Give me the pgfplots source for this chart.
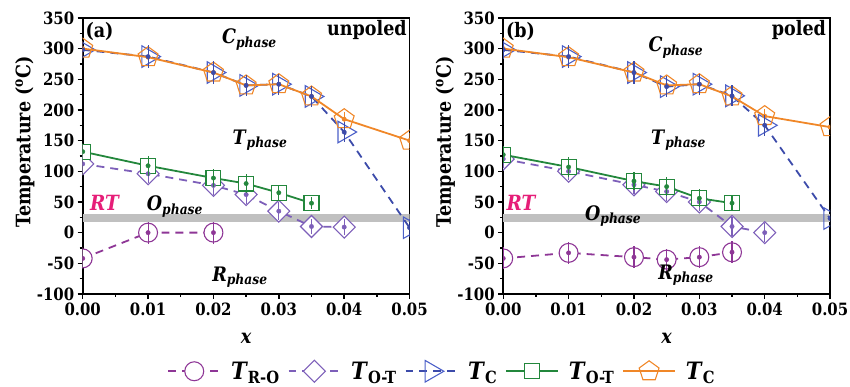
\documentclass[border=0pt]{standalone}
\usepackage{fontspec}
\setmainfont{DejaVu Serif}[FakeStretch=0.88]
\usepackage{pgfplots}
\pgfplotsset{compat=1.18}
\usepackage{pgfplotstable}

\definecolor{cRO}{RGB}{142,54,150}
\definecolor{cOTa}{RGB}{125,95,185}
\definecolor{cTCa}{RGB}{60,75,170}
\definecolor{cTCam}{RGB}{75,95,200}
\definecolor{cOTb}{RGB}{35,135,60}
\definecolor{cTCb}{RGB}{240,135,40}
\definecolor{cRT}{RGB}{230,30,120}
\definecolor{cband}{RGB}{192,192,192}

% ---------------- (a) unpoled ----------------
\pgfplotstableread{
x y e
0 -42 18
0.01 0 18
0.02 0 18
}\aRO
\pgfplotstableread{
x y e
0 112 15
0.01 96 15
0.02 77 15
0.025 62 15
0.03 35 15
0.035 10 13
0.04 9 13
}\aOT
\pgfplotstableread{
x y e
0 298 15
0.01 287 19
0.02 261 18
0.025 240 17
0.03 242 17
0.035 222 17
0.04 164 17
0.05 8 15
}\aTC
\pgfplotstableread{
x y e
0 132 14
0.01 109 16
0.02 89 15
0.025 80 15
0.03 65 12
0.035 48 10
}\aOTs
\pgfplotstableread{
x y e
0 300 12
0.01 286 12
0.02 261 12
0.025 240 12
0.03 242 12
0.035 222 12
0.04 185 12
0.05 150 12
}\aTCp

% ---------------- (b) poled ----------------
\pgfplotstableread{
x y e
0 -42 18
0.01 -33 18
0.02 -40 18
0.025 -44 18
0.03 -40 18
0.035 -32 18
}\bRO
\pgfplotstableread{
x y e
0 120 15
0.01 100 15
0.02 78 15
0.025 67 15
0.03 50 15
0.035 10 15
0.04 0 15
}\bOT
\pgfplotstableread{
x y e
0 298 15
0.01 287 19
0.02 261 18
0.025 238 17
0.03 242 17
0.035 223 17
0.04 175 17
0.05 23 15
}\bTC
\pgfplotstableread{
x y e
0 127 14
0.01 107 16
0.02 84 15
0.025 75 15
0.03 56 15
0.035 48 12
}\bOTs
\pgfplotstableread{
x y e
0 300 12
0.01 286 12
0.02 261 12
0.025 240 12
0.03 242 12
0.035 222 12
0.04 190 12
0.05 172 12
}\bTCp

\newcommand{\ph}[1]{\textbf{\textit{#1}}\textsubscript{\textbf{\textit{phase}}}}
\newcommand{\TT}[1]{\textbf{\textit{T}}\textsubscript{\textbf{#1}}}

\pgfplotsset{
  common/.style={
    scale only axis, width=328pt, height=277pt,
    xmin=0, xmax=0.05, ymin=-100, ymax=350,
    clip marker paths=true,
    xtick={0,0.01,0.02,0.03,0.04,0.05},
    minor xtick={0.005,0.015,0.025,0.035,0.045},
    ytick={-100,-50,0,50,100,150,200,250,300,350},
    minor ytick={-75,-25,25,75,125,175,225,275,325},
    tick align=outside, xtick pos=bottom, ytick pos=left,
    major tick length=5pt, minor tick length=3pt,
    every tick/.style={line width=1.4pt, black},
    axis line style={line width=1.6pt},
    ticklabel style={font=\fontsize{17}{20}\selectfont\bfseries},
    /pgf/number format/assume math mode=true,
    xticklabel style={/pgf/number format/.cd, fixed, fixed zerofill, precision=2},
    scaled x ticks=false,
    xlabel={\textbf{\textit{x}}},
    ylabel={\textbf{Temperature (\textsuperscript{o}C)}},
    label style={font=\fontsize{20}{24}\selectfont},
    ylabel style={at={(axis description cs:-0.177,0.55)}, anchor=center},
    xlabel style={at={(axis description cs:0.5,-0.162)}, anchor=center},
    legend image code/.code={\draw[mark repeat=2, mark phase=2] plot coordinates {(0pt,0pt) (26pt,0pt) (52pt,0pt)};},
  },
  sRO/.style={color=cRO, line width=1.8pt, dash pattern=on 8pt off 6pt, mark=*, mark size=9.5pt, mark options={solid, fill=white, draw=cRO, line width=1.1pt}},
  sOT/.style={color=cOTa, line width=1.8pt, dash pattern=on 8pt off 6pt, mark=square*, mark size=7.8pt, mark options={solid, rotate=45, fill=white, draw=cOTa, line width=1.1pt}},
  sTC/.style={color=cTCa, line width=1.8pt, dash pattern=on 8pt off 6pt, mark=triangle, mark size=12.5pt, mark options={solid, rotate=-90, draw=cTCam, line width=1.1pt}},
  sOTs/.style={color=cOTb, line width=1.8pt, solid, mark=square*, mark size=7.5pt, mark options={solid, fill=white, draw=cOTb, line width=1.1pt}},
  sTCp/.style={color=cTCb, line width=1.8pt, solid, mark=pentagon, mark size=10.5pt, mark options={solid, draw=cTCb, line width=1.1pt}},
  dots/.style={forget plot, only marks, mark=*, mark size=2.2pt, color=#1,
    error bars/.cd, y dir=both, y explicit, error mark=none,
    error bar style={line width=1.1pt, solid, color=#1}},
}

\begin{document}
\begin{tikzpicture}
\useasboundingbox (-83pt,-93pt) rectangle (770pt,295pt);
% ======================= (a) =======================
\begin{axis}[common,
  legend style={at={(axis description cs:1.1,-0.28)}, anchor=center,
    legend columns=5, draw=none, fill=none,
    font=\fontsize{24}{28}\selectfont,
    /tikz/every even column/.append style={column sep=6pt},
    /tikz/every odd column/.append style={column sep=8pt}},
]
\addplot[forget plot, fill=cband, draw=none] coordinates {(0,18) (0.05,18) (0.05,31) (0,31)} -- cycle;

\addplot[sRO] table[x=x,y=y]{\aRO};
\addlegendentry{\TT{R-O}}
\addplot[sOT] table[x=x,y=y]{\aOT};
\addlegendentry{\TT{O-T}}
\addplot[sTC] table[x=x,y=y]{\aTC};
\addlegendentry{\TT{C}}
\addplot[sOTs] table[x=x,y=y]{\aOTs};
\addlegendentry{\TT{O-T}}
\addplot[sTCp] table[x=x,y=y]{\aTCp};
\addlegendentry{\TT{C}}

\addplot[dots=cRO] table[x=x,y=y,y error=e]{\aRO};
\addplot[dots=cOTa] table[x=x,y=y,y error=e]{\aOT};
\addplot[dots=cTCb] table[x=x,y=y,y error=e]{\aTCp};
\addplot[dots=cTCa] table[x=x,y=y,y error=e]{\aTC};
\addplot[dots=cOTb] table[x=x,y=y,y error=e]{\aOTs};

\node[anchor=west, font=\fontsize{20}{24}\selectfont\bfseries, inner sep=0pt] at (axis cs:0.0004,328) {(a)};
\node[anchor=east, font=\fontsize{20}{24}\selectfont\bfseries, inner sep=0pt] at (axis cs:0.0496,330) {unpoled};
\node[anchor=base west, font=\fontsize{20}{24}\selectfont, inner sep=0pt] at (axis cs:0.0213,308) {\ph{C}};
\node[anchor=base west, font=\fontsize{20}{24}\selectfont, inner sep=0pt] at (axis cs:0.0229,144) {\ph{T}};
\node[anchor=base west, font=\fontsize{20}{24}\selectfont, inner sep=0pt] at (axis cs:0.0098,36) {\ph{O}};
\node[anchor=base west, font=\fontsize{20}{24}\selectfont, inner sep=0pt] at (axis cs:0.0198,-79) {\ph{R}};
\node[anchor=base west, font=\fontsize{21}{24}\selectfont\bfseries\itshape, text=cRT, inner sep=0pt] at (axis cs:0.0011,36) {RT};
\end{axis}

% ======================= (b) =======================
\begin{axis}[common, at={(422pt,0pt)}]
\addplot[forget plot, fill=cband, draw=none] coordinates {(0,18) (0.05,18) (0.05,31) (0,31)} -- cycle;

\addplot[sRO] table[x=x,y=y]{\bRO};
\addplot[sOT] table[x=x,y=y]{\bOT};
\addplot[sTC] table[x=x,y=y]{\bTC};
\addplot[sOTs] table[x=x,y=y]{\bOTs};
\addplot[sTCp] table[x=x,y=y]{\bTCp};

\addplot[dots=cRO] table[x=x,y=y,y error=e]{\bRO};
\addplot[dots=cOTa] table[x=x,y=y,y error=e]{\bOT};
\addplot[dots=cTCb] table[x=x,y=y,y error=e]{\bTCp};
\addplot[dots=cTCa] table[x=x,y=y,y error=e]{\bTC};
\addplot[dots=cOTb] table[x=x,y=y,y error=e]{\bOTs};

\node[anchor=west, font=\fontsize{20}{24}\selectfont\bfseries, inner sep=0pt] at (axis cs:0.0004,328) {(b)};
\node[anchor=east, font=\fontsize{20}{24}\selectfont\bfseries, inner sep=0pt] at (axis cs:0.0494,330) {poled};
\node[anchor=base west, font=\fontsize{20}{24}\selectfont, inner sep=0pt] at (axis cs:0.0222,295) {\ph{C}};
\node[anchor=base west, font=\fontsize{20}{24}\selectfont, inner sep=0pt] at (axis cs:0.0226,144) {\ph{T}};
\node[anchor=base west, font=\fontsize{20}{24}\selectfont, inner sep=0pt] at (axis cs:0.0125,20) {\ph{O}};
\node[anchor=base west, font=\fontsize{20}{24}\selectfont, inner sep=0pt] at (axis cs:0.0237,-76) {\ph{R}};
\node[anchor=base west, font=\fontsize{21}{24}\selectfont\bfseries\itshape, text=cRT, inner sep=0pt] at (axis cs:0.0005,36) {RT};
\end{axis}
\end{tikzpicture}
\end{document}
